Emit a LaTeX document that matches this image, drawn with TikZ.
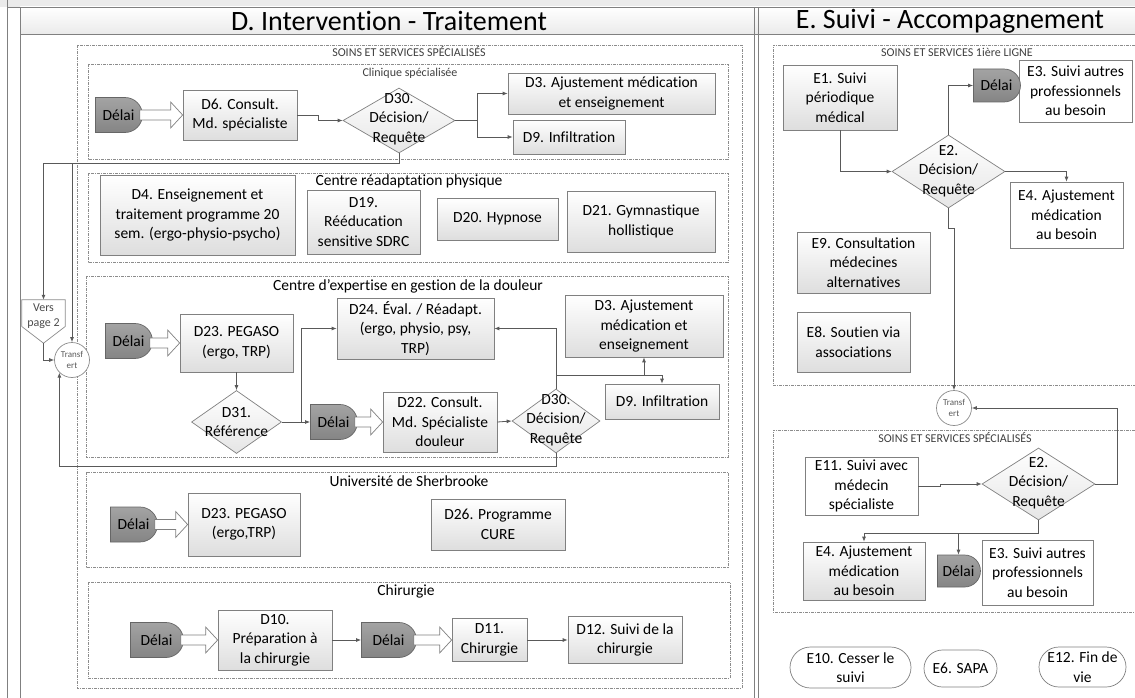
\documentclass[tikz,border=0pt]{standalone}
\usepackage{fontspec}
\setmainfont{Carlito}[Ligatures={NoCommon}]
\usetikzlibrary{shapes.geometric,shapes.misc,arrows.meta,calc}
\newcommand\hollowarr[2]{\draw[harr] ($(#1.east |- #2.west)+(-3,-5)$) -- ($(#2.west)+(-12,-5)$) -- ($(#2.west)+(-12,-13)$) -- (#2.west) -- ($(#2.west)+(-12,13)$) -- ($(#2.west)+(-12,5)$) -- ($(#1.east |- #2.west)+(-3,5)$) -- cycle;}
\begin{document}
\begin{tikzpicture}[x=1pt,y=-1pt,
  bodyfont/.style={font=\fontsize{15.5}{19.5}\selectfont},
  txt/.style={bodyfont, align=center, inner sep=0pt},
  bx/.style={bodyfont, draw=black!50, line width=0.7pt, top color=white, bottom color=black!13, align=center, inner sep=1pt},
  wbx/.style={bx, top color=white, bottom color=white},
  dl/.style={bodyfont, rounded rectangle, rounded rectangle left arc=none, draw=black!60, line width=0.7pt, top color=black!36, bottom color=black!48, minimum width=47, minimum height=35, inner sep=0pt},
  dia/.style={diamond, draw=black!50, line width=0.7pt, top color=white, bottom color=black!10, inner sep=0pt},
  term/.style={bodyfont, rounded rectangle, draw=black!50, line width=0.7pt, fill=white, align=center, inner sep=1pt},
  trs/.style={circle, draw=black!45, line width=0.7pt, fill=white, minimum size=35, inner sep=0pt},
  grp/.style={draw=black!45, line width=0.6pt, dash pattern=on 3pt off 1pt on 1pt off 1pt},
  glabel/.style={font=\fontsize{15.5}{18}\selectfont, inner sep=0pt},
  slabel/.style={font=\fontsize{12}{14}\selectfont, text=black!75, inner sep=0pt},
  con/.style={draw=black!65, line width=0.8pt, -{Latex[length=5pt,width=4pt]}},
  harr/.style={draw=black!50, fill=white, line width=0.7pt, line join=miter},
  frame/.style={draw=black!50, line width=0.8pt}
]
\useasboundingbox (0,0) rectangle (1135,698);
\fill[white] (0,0) rectangle (1135,698);
% header
\fill[black!8] (0,0) rectangle (1135,7);
\shade[top color=white, bottom color=black!8] (20,7) rectangle (1135,34);
\draw[frame] (7,7) -- (1135,7);
\draw[frame] (20,34) -- (1135,34);
\draw[frame] (7,0) -- (7,698);
\draw[frame] (20,7) -- (20,698);
\draw[frame] (754,7) -- (754,698);
\draw[frame] (758,7) -- (758,698);
\node[font=\fontsize{28}{32}\selectfont, inner sep=0pt] (titleD) at (389,21) {D. Intervention - Traitement};
\node[font=\fontsize{28}{32}\selectfont, inner sep=0pt] (titleE) at (950,21) {E. Suivi - Accompagnement};

% group boxes D
\draw[grp] (77,45) rectangle (742,688);
\node[slabel] (lsoinsD) at (409,52) {SOINS ET SERVICES SPÉCIALISÉS};
\draw[grp] (88,64) rectangle (728,159);
\node[slabel] (lclin) at (410,73) {Clinique spécialisée};
\draw[grp] (88,173) rectangle (728,262);
\node[glabel] (lreadapt) at (409,181) {Centre réadaptation physique};
\draw[grp] (86,276) rectangle (728,457);
\node[glabel] (lexp) at (408,286) {Centre d’expertise en gestion de la douleur};
\draw[grp] (86,472) rectangle (728,567);
\node[glabel] (luni) at (409,481) {Université de Sherbrooke};
\draw[grp] (88,582) rectangle (730,678);
\node[glabel] (lchir) at (406,591) {Chirurgie};

% group boxes E
\draw[grp] (1135,45) -- (773,45) -- (773,385) -- (1135,385);
\node[slabel] (lsoinsE1) at (957,52) {SOINS ET SERVICES 1ière LIGNE};
\draw[grp] (1135,430) -- (773,430) -- (773,612) -- (1135,612);
\node[slabel] (lsoinsE2) at (955,438) {SOINS ET SERVICES SPÉCIALISÉS};

% Clinique
\node[dl] (dl1) at (118.5,115) {Délai};
\node[bx, minimum width=114, minimum height=50] (d6) at (240,115) {D6. Consult.\\Md. spécialiste};
\node[dia, minimum width=112, minimum height=65] (d30a) at (399,120.5) {};
\node[txt] (d30at) at (399,119) {D30.\\Décision/\\Requête};
\node[bx, minimum width=207, minimum height=41] (d3a) at (611.5,93.5) {D3. Ajustement médication\\et enseignement};
\node[bx, minimum width=112, minimum height=34] (d9a) at (569,137) {D9. Infiltration};

% Readaptation
\node[bx, minimum width=195, minimum height=80] (d4) at (197.5,215) {D4. Enseignement et\\traitement programme 20\\sem. (ergo-physio-psycho)};
\node[bx, minimum width=113, minimum height=64] (d19) at (363.5,222) {D19.\\Rééducation\\sensitive SDRC};
\node[bx, minimum width=121, minimum height=42] (d20) at (497.5,219) {D20. Hypnose};
\node[bx, minimum width=148, minimum height=61] (d21) at (641,221.5) {D21. Gymnastique\\hollistique};

% Expertise
\node[dl] (dl2) at (128.5,341) {Délai};
\node[bx, minimum width=113, minimum height=58] (d23a) at (236.5,343) {D23. PEGASO\\(ergo, TRP)};
\node[dia, minimum width=90, minimum height=63] (d31) at (236.5,422) {};
\node[txt] (d31t) at (236.5,422) {D31.\\Référence};
\node[dl] (dl3) at (333.5,422) {Délai};
\node[bx, minimum width=114, minimum height=60] (d22) at (440,422) {D22. Consult.\\Md. Spécialiste\\douleur};
\node[dia, minimum width=88, minimum height=64] (d30b) at (556,421) {};
\node[txt] (d30bt) at (556,420) {D30.\\Décision/\\Requête};
\node[bx, minimum width=157, minimum height=61] (d24) at (415.5,328.5) {D24. Éval. / Réadapt.\\(ergo, physio, psy,\\TRP)};
\node[bx, minimum width=158, minimum height=62] (d3b) at (644,326) {D3. Ajustement\\médication et\\enseignement};
\node[bx, minimum width=114, minimum height=35] (d9b) at (662,401.5) {D9. Infiltration};

% Universite
\node[dl] (dl4) at (133.5,524.5) {Délai};
\node[bx, minimum width=112, minimum height=63] (d23b) at (244,524.5) {D23. PEGASO\\(ergo,TRP)};
\node[bx, minimum width=134, minimum height=51] (d26) at (498,524.5) {D26. Programme\\CURE};

% Chirurgie
\node[dl, minimum width=53] (dl5) at (156.5,640) {Délai};
\node[bx, minimum width=114, minimum height=60] (d10) at (275,640) {D10.\\Préparation à\\la chirurgie};
\node[dl, minimum width=55] (dl6) at (388.5,640) {Délai};
\node[bx, minimum width=75, minimum height=43] (d11) at (489.5,640) {D11.\\Chirurgie};
\node[bx, minimum width=114, minimum height=47] (d12) at (625,640) {D12. Suivi de la\\chirurgie};

% Vers page 2 and Transfert
\node[minimum width=43, minimum height=43, inner sep=0pt] (vp2) at (43.5,321.5) {};
\draw[draw=black!45, line width=0.7pt, fill=white] (vp2.north west) -- (vp2.north east) -- ($(vp2.east)+(0,5)$) -- (vp2.south) -- ($(vp2.west)+(0,5)$) -- cycle;
\node[font=\fontsize{12}{15}\selectfont, text=black!70, align=center, inner sep=0pt] (vp2t) at (43.5,316) {Vers\\page 2};
\node[trs] (tr1) at (72,360) {};
\node[font=\fontsize{9}{11}\selectfont, text=black!65, align=center, inner sep=0pt] (tr1t) at (72,360) {Transf\\ert};

% E column
\node[bx, minimum width=114, minimum height=65] (e1) at (840,97.5) {E1. Suivi\\périodique\\médical};
\node[dia, minimum width=113, minimum height=73] (e2) at (948.5,171.5) {};
\node[txt] (e2t) at (948.5,171) {E2.\\Décision/\\Requête};
\node[wbx, minimum width=113, minimum height=62] (e3) at (1075.5,91) {E3. Suivi autres\\professionnels\\au besoin};
\node[dl, minimum height=33] (dl7) at (996.5,85.5) {Délai};
\node[wbx, minimum width=113, minimum height=66] (e4) at (1066.5,215) {E4. Ajustement\\médication\\au besoin};
\node[bx, minimum width=133, minimum height=61] (e9) at (863.5,262.5) {E9. Consultation\\médecines\\alternatives};
\node[bx, minimum width=113, minimum height=60] (e8) at (853.5,342) {E8. Soutien via\\associations};
\node[trs] (tr2) at (954,408) {};
\node[font=\fontsize{9}{11}\selectfont, text=black!65, align=center, inner sep=0pt] (tr2t) at (954,408) {Transf\\ert};
\node[wbx, minimum width=113, minimum height=58] (e11) at (861.5,486) {E11. Suivi avec\\médecin\\spécialiste};
\node[dia, minimum width=113, minimum height=72] (e2b) at (1038.5,484) {};
\node[txt] (e2bt) at (1038.5,483) {E2.\\Décision/\\Requête};
\node[bx, minimum width=122, minimum height=58] (e4b) at (864,571) {E4. Ajustement\\médication\\au besoin};
\node[wbx, minimum width=111, minimum height=65] (e3b) at (1037.5,572.5) {E3. Suivi autres\\professionnels\\au besoin};
\node[dl, minimum width=43, minimum height=32] (dl8) at (958.5,571) {Délai};
\node[term, minimum width=123, minimum height=41] (e10) at (850.5,667.5) {E10. Cesser le\\suivi};
\node[term, minimum width=75, minimum height=37] (e6) at (960.5,668.5) {E6. SAPA};
\node[term, minimum width=89, minimum height=40] (e12) at (1082.5,667) {E12. Fin de\\vie};

% hollow arrows
\hollowarr{dl1}{d6}
\hollowarr{dl2}{d23a}
\hollowarr{dl3}{d22}
\hollowarr{dl4}{d23b}
\hollowarr{dl5}{d10}
\hollowarr{dl6}{d11}

% connectors D
\draw[con] (d6.east) -- ++(21,0) |- (d30a.west);
\draw[con] (d30a.east) -- ++(22,0) |- (d3a.west);
\draw[con] (d30a.east) -- ++(22,0) |- (d9a.west);
\coordinate (fb) at ($(d30a.south)+(0,10)$);
\draw[con] (d30a.south) -- (fb) -| (vp2.north);
\draw[con] (d30a.south) -- (fb) -| (tr1.north);
\draw[con] (vp2.south) |- (tr1.west);
\draw[con] (d30b.south) -- ++(0,13) -| (tr1.south west);
\draw[con] (d23a.south) -- (d31.north);
\draw[con] (d31.east) -- (dl3.west);
\draw[con] (d31.east) -- ++(20,0) |- (d24.west);
\draw[con] (d22.east) -- (d30b.west);
\draw[con] (d30b.north) |- (d24.east);
\coordinate (jn) at ($(d30b.north)+(0,-13)$);
\draw[con] (d30b.north) -- (jn) -| (d3b.south);
\draw[con] (d30b.north) -- (jn) -| (d9b.north);
\draw[con] (d10.east) -- (dl6.west);
\draw[con] (d11.east) -- (d12.west);

% connectors E
\draw[con] (e1.south) |- (e2.west);
\draw[con] (e2.north) |- (dl7.west);
\draw[con] (e2.east) -| (e4.north);
\draw[con] (e2.south) -- ++(0,20) -| (tr2.north);
\draw[con] (e11.east) -- ++(22,0) |- (e2b.west);
\draw[con] (e2b.east) -- ++(22,0) |- (tr2.east);
\draw[con] (e2b.south) -- ++(0,13) -| (e4b.north);
\draw[con] (e2b.south) -- ++(0,13) -| (dl8.north);
\end{tikzpicture}
\end{document}
